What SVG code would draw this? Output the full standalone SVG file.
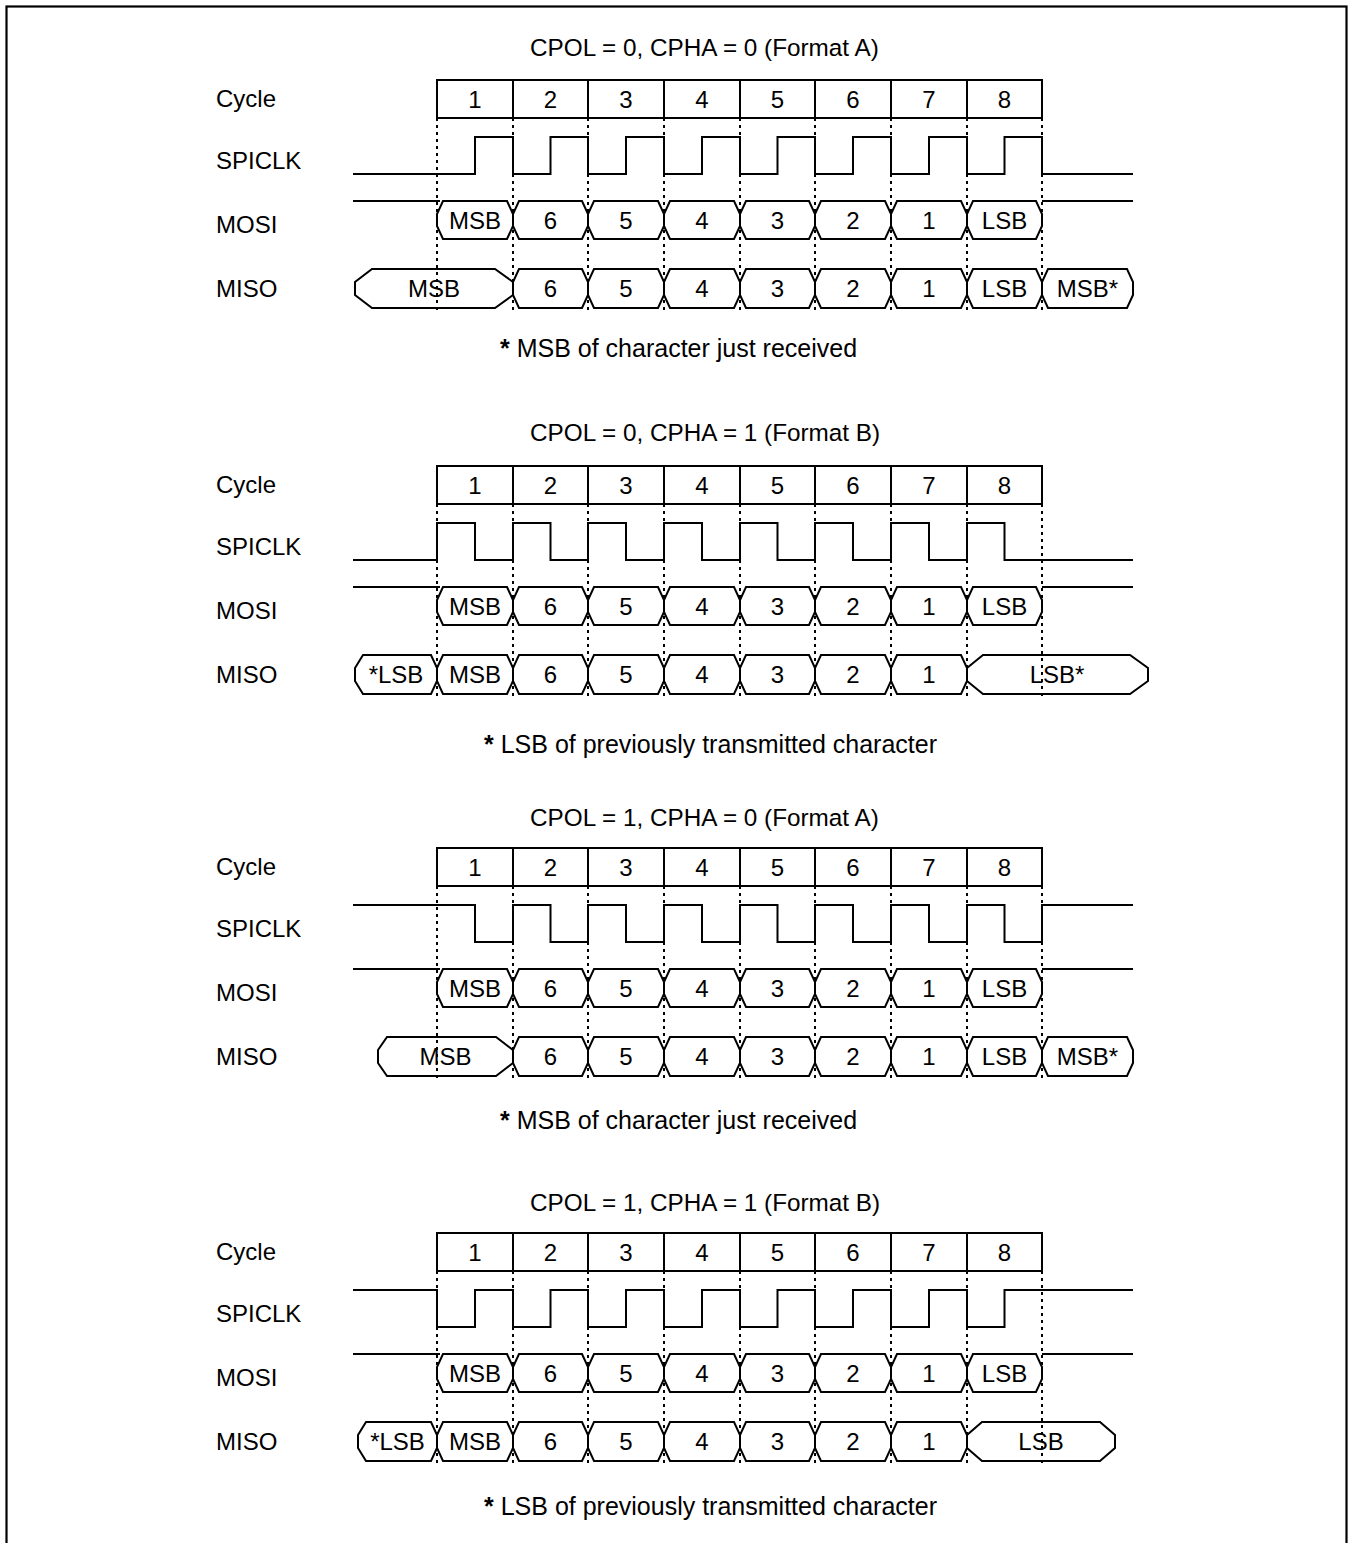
<svg xmlns="http://www.w3.org/2000/svg" width="1348" height="1543" viewBox="0 0 1348 1543">
<style>
text{font-family:"Liberation Sans",Arial,sans-serif;font-size:24px;fill:#000}
.c{text-anchor:middle}
.t{font-size:24.3px}
.f{font-size:25px}
.ln{fill:none;stroke:#000;stroke-width:2}
.bus{fill:none;stroke:#000;stroke-width:2;stroke-linejoin:miter}
.dot{fill:none;stroke:#000;stroke-width:2;stroke-dasharray:3 4}
.b{font-weight:bold}
</style>
<rect x="0" y="0" width="1348" height="1543" fill="#fff"/>
<rect id="frame" x="6.5" y="6.5" width="1340" height="1560" fill="none" stroke="#000" stroke-width="2.2"/>

<!-- Section 1 -->
<g id="sec1">
<text class="t" x="530" y="56">CPOL = 0, CPHA = 0 (Format A)</text>
<text class="f" x="500" y="357"><tspan class="b">*</tspan> MSB of character just received</text>
<g transform="translate(0,80)">
<g id="s1-labels">
<text x="216" y="27">Cycle</text>
<text x="216" y="88.6">SPICLK</text>
<text x="216" y="152.6">MOSI</text>
<text x="216" y="216.6">MISO</text>
</g>
<g id="s1-cycle">
<path class="ln" d="M437,0H1042V38H437Z M513,0V38 M588,0V38 M664,0V38 M740,0V38 M815,0V38 M891,0V38 M967,0V38"/>
<text class="c" x="475" y="27.6">1</text><text class="c" x="550.5" y="27.6">2</text><text class="c" x="626" y="27.6">3</text><text class="c" x="702" y="27.6">4</text><text class="c" x="777.5" y="27.6">5</text><text class="c" x="853" y="27.6">6</text><text class="c" x="929" y="27.6">7</text><text class="c" x="1004.5" y="27.6">8</text>
</g>
<g id="s1-spiclk">
<path class="ln" d="M353,94H475V57H513V94H550.5V57H588V94H626V57H664V94H702V57H740V94H777.5V57H815V94H853V57H891V94H929V57H967V94H1004.5V57H1042V94H1133"/>
</g>
<g id="s1-mosi">
<path class="ln" d="M353,121H440 M1042,121H1133"/>
<polygon class="bus" points="443,121 507,121 513,134 513,146 507,159 443,159 437,146 437,134"/>
<polygon class="bus" points="519,121 582,121 588,134 588,146 582,159 519,159 513,146 513,134"/>
<polygon class="bus" points="594,121 658,121 664,134 664,146 658,159 594,159 588,146 588,134"/>
<polygon class="bus" points="670,121 734,121 740,134 740,146 734,159 670,159 664,146 664,134"/>
<polygon class="bus" points="746,121 809,121 815,134 815,146 809,159 746,159 740,146 740,134"/>
<polygon class="bus" points="821,121 885,121 891,134 891,146 885,159 821,159 815,146 815,134"/>
<polygon class="bus" points="897,121 961,121 967,134 967,146 961,159 897,159 891,146 891,134"/>
<polygon class="bus" points="973,121 1036,121 1042,134 1042,146 1036,159 973,159 967,146 967,134"/>
<text class="c" x="475" y="148.6">MSB</text><text class="c" x="550.5" y="148.6">6</text><text class="c" x="626" y="148.6">5</text><text class="c" x="702" y="148.6">4</text><text class="c" x="777.5" y="148.6">3</text><text class="c" x="853" y="148.6">2</text><text class="c" x="929" y="148.6">1</text><text class="c" x="1004.5" y="148.6">LSB</text>
</g>
<g id="s1-miso">
<polygon class="bus" points="372,189 495,189 513,202 513,215 495,228 372,228 355,215 355,202"/>
<polygon class="bus" points="519,189 582,189 588,202 588,215 582,228 519,228 513,215 513,202"/>
<polygon class="bus" points="594,189 658,189 664,202 664,215 658,228 594,228 588,215 588,202"/>
<polygon class="bus" points="670,189 734,189 740,202 740,215 734,228 670,228 664,215 664,202"/>
<polygon class="bus" points="746,189 809,189 815,202 815,215 809,228 746,228 740,215 740,202"/>
<polygon class="bus" points="821,189 885,189 891,202 891,215 885,228 821,228 815,215 815,202"/>
<polygon class="bus" points="897,189 961,189 967,202 967,215 961,228 897,228 891,215 891,202"/>
<polygon class="bus" points="973,189 1036,189 1042,202 1042,215 1036,228 973,228 967,215 967,202"/>
<polygon class="bus" points="1048,189 1127,189 1133,202 1133,215 1127,228 1048,228 1042,215 1042,202"/>
<text class="c" x="434" y="217">MSB</text><text class="c" x="550.5" y="217">6</text><text class="c" x="626" y="217">5</text><text class="c" x="702" y="217">4</text><text class="c" x="777.5" y="217">3</text><text class="c" x="853" y="217">2</text><text class="c" x="929" y="217">1</text><text class="c" x="1004.5" y="217">LSB</text><text class="c" x="1087.5" y="217">MSB*</text>
</g>
<path class="dot" d="M437,38V234 M513,38V234 M588,38V234 M664,38V234 M740,38V234 M815,38V234 M891,38V234 M967,38V234 M1042,38V234"/>
</g>
</g>

<!-- Section 2 -->
<g id="sec2">
<text class="t" x="530" y="441">CPOL = 0, CPHA = 1 (Format B)</text>
<text class="f" x="484" y="753"><tspan class="b">*</tspan> LSB of previously transmitted character</text>
<g transform="translate(0,466)">
<g id="s2-labels">
<text x="216" y="27">Cycle</text>
<text x="216" y="88.6">SPICLK</text>
<text x="216" y="152.6">MOSI</text>
<text x="216" y="216.6">MISO</text>
</g>
<g id="s2-cycle">
<path class="ln" d="M437,0H1042V38H437Z M513,0V38 M588,0V38 M664,0V38 M740,0V38 M815,0V38 M891,0V38 M967,0V38"/>
<text class="c" x="475" y="27.6">1</text><text class="c" x="550.5" y="27.6">2</text><text class="c" x="626" y="27.6">3</text><text class="c" x="702" y="27.6">4</text><text class="c" x="777.5" y="27.6">5</text><text class="c" x="853" y="27.6">6</text><text class="c" x="929" y="27.6">7</text><text class="c" x="1004.5" y="27.6">8</text>
</g>
<g id="s2-spiclk">
<path class="ln" d="M353,94H437V57H475V94H513V57H550.5V94H588V57H626V94H664V57H702V94H740V57H777.5V94H815V57H853V94H891V57H929V94H967V57H1004.5V94H1133"/>
</g>
<g id="s2-mosi">
<path class="ln" d="M353,121H440 M1042,121H1133"/>
<polygon class="bus" points="443,121 507,121 513,134 513,146 507,159 443,159 437,146 437,134"/>
<polygon class="bus" points="519,121 582,121 588,134 588,146 582,159 519,159 513,146 513,134"/>
<polygon class="bus" points="594,121 658,121 664,134 664,146 658,159 594,159 588,146 588,134"/>
<polygon class="bus" points="670,121 734,121 740,134 740,146 734,159 670,159 664,146 664,134"/>
<polygon class="bus" points="746,121 809,121 815,134 815,146 809,159 746,159 740,146 740,134"/>
<polygon class="bus" points="821,121 885,121 891,134 891,146 885,159 821,159 815,146 815,134"/>
<polygon class="bus" points="897,121 961,121 967,134 967,146 961,159 897,159 891,146 891,134"/>
<polygon class="bus" points="973,121 1036,121 1042,134 1042,146 1036,159 973,159 967,146 967,134"/>
<text class="c" x="475" y="148.6">MSB</text><text class="c" x="550.5" y="148.6">6</text><text class="c" x="626" y="148.6">5</text><text class="c" x="702" y="148.6">4</text><text class="c" x="777.5" y="148.6">3</text><text class="c" x="853" y="148.6">2</text><text class="c" x="929" y="148.6">1</text><text class="c" x="1004.5" y="148.6">LSB</text>
</g>
<g id="s2-miso">
<polygon class="bus" points="363,189 431,189 437,202 437,215 431,228 363,228 355,215 355,202"/>
<polygon class="bus" points="443,189 507,189 513,202 513,215 507,228 443,228 437,215 437,202"/>
<polygon class="bus" points="519,189 582,189 588,202 588,215 582,228 519,228 513,215 513,202"/>
<polygon class="bus" points="594,189 658,189 664,202 664,215 658,228 594,228 588,215 588,202"/>
<polygon class="bus" points="670,189 734,189 740,202 740,215 734,228 670,228 664,215 664,202"/>
<polygon class="bus" points="746,189 809,189 815,202 815,215 809,228 746,228 740,215 740,202"/>
<polygon class="bus" points="821,189 885,189 891,202 891,215 885,228 821,228 815,215 815,202"/>
<polygon class="bus" points="897,189 961,189 967,202 967,215 961,228 897,228 891,215 891,202"/>
<polygon class="bus" points="983,189 1130,189 1148,202 1148,215 1130,228 983,228 967,215 967,202"/>
<text class="c" x="396" y="217">*LSB</text><text class="c" x="475" y="217">MSB</text><text class="c" x="550.5" y="217">6</text><text class="c" x="626" y="217">5</text><text class="c" x="702" y="217">4</text><text class="c" x="777.5" y="217">3</text><text class="c" x="853" y="217">2</text><text class="c" x="929" y="217">1</text><text class="c" x="1057" y="217">LSB*</text>
</g>
<path class="dot" d="M437,38V234 M513,38V234 M588,38V234 M664,38V234 M740,38V234 M815,38V234 M891,38V234 M967,38V234 M1042,38V234"/>
</g>
</g>

<!-- Section 3 -->
<g id="sec3">
<text class="t" x="530" y="826">CPOL = 1, CPHA = 0 (Format A)</text>
<text class="f" x="500" y="1129"><tspan class="b">*</tspan> MSB of character just received</text>
<g transform="translate(0,848)">
<g id="s3-labels">
<text x="216" y="27">Cycle</text>
<text x="216" y="88.6">SPICLK</text>
<text x="216" y="152.6">MOSI</text>
<text x="216" y="216.6">MISO</text>
</g>
<g id="s3-cycle">
<path class="ln" d="M437,0H1042V38H437Z M513,0V38 M588,0V38 M664,0V38 M740,0V38 M815,0V38 M891,0V38 M967,0V38"/>
<text class="c" x="475" y="27.6">1</text><text class="c" x="550.5" y="27.6">2</text><text class="c" x="626" y="27.6">3</text><text class="c" x="702" y="27.6">4</text><text class="c" x="777.5" y="27.6">5</text><text class="c" x="853" y="27.6">6</text><text class="c" x="929" y="27.6">7</text><text class="c" x="1004.5" y="27.6">8</text>
</g>
<g id="s3-spiclk">
<path class="ln" d="M353,57H475V94H513V57H550.5V94H588V57H626V94H664V57H702V94H740V57H777.5V94H815V57H853V94H891V57H929V94H967V57H1004.5V94H1042V57H1133"/>
</g>
<g id="s3-mosi">
<path class="ln" d="M353,121H440 M1042,121H1133"/>
<polygon class="bus" points="443,121 507,121 513,134 513,146 507,159 443,159 437,146 437,134"/>
<polygon class="bus" points="519,121 582,121 588,134 588,146 582,159 519,159 513,146 513,134"/>
<polygon class="bus" points="594,121 658,121 664,134 664,146 658,159 594,159 588,146 588,134"/>
<polygon class="bus" points="670,121 734,121 740,134 740,146 734,159 670,159 664,146 664,134"/>
<polygon class="bus" points="746,121 809,121 815,134 815,146 809,159 746,159 740,146 740,134"/>
<polygon class="bus" points="821,121 885,121 891,134 891,146 885,159 821,159 815,146 815,134"/>
<polygon class="bus" points="897,121 961,121 967,134 967,146 961,159 897,159 891,146 891,134"/>
<polygon class="bus" points="973,121 1036,121 1042,134 1042,146 1036,159 973,159 967,146 967,134"/>
<text class="c" x="475" y="148.6">MSB</text><text class="c" x="550.5" y="148.6">6</text><text class="c" x="626" y="148.6">5</text><text class="c" x="702" y="148.6">4</text><text class="c" x="777.5" y="148.6">3</text><text class="c" x="853" y="148.6">2</text><text class="c" x="929" y="148.6">1</text><text class="c" x="1004.5" y="148.6">LSB</text>
</g>
<g id="s3-miso">
<polygon class="bus" points="387,189 496,189 513,202 513,215 496,228 387,228 378,215 378,202"/>
<polygon class="bus" points="519,189 582,189 588,202 588,215 582,228 519,228 513,215 513,202"/>
<polygon class="bus" points="594,189 658,189 664,202 664,215 658,228 594,228 588,215 588,202"/>
<polygon class="bus" points="670,189 734,189 740,202 740,215 734,228 670,228 664,215 664,202"/>
<polygon class="bus" points="746,189 809,189 815,202 815,215 809,228 746,228 740,215 740,202"/>
<polygon class="bus" points="821,189 885,189 891,202 891,215 885,228 821,228 815,215 815,202"/>
<polygon class="bus" points="897,189 961,189 967,202 967,215 961,228 897,228 891,215 891,202"/>
<polygon class="bus" points="973,189 1036,189 1042,202 1042,215 1036,228 973,228 967,215 967,202"/>
<polygon class="bus" points="1048,189 1127,189 1133,202 1133,215 1127,228 1048,228 1042,215 1042,202"/>
<text class="c" x="445.5" y="217">MSB</text><text class="c" x="550.5" y="217">6</text><text class="c" x="626" y="217">5</text><text class="c" x="702" y="217">4</text><text class="c" x="777.5" y="217">3</text><text class="c" x="853" y="217">2</text><text class="c" x="929" y="217">1</text><text class="c" x="1004.5" y="217">LSB</text><text class="c" x="1087.5" y="217">MSB*</text>
</g>
<path class="dot" d="M437,38V234 M513,38V234 M588,38V234 M664,38V234 M740,38V234 M815,38V234 M891,38V234 M967,38V234 M1042,38V234"/>
</g>
</g>

<!-- Section 4 -->
<g id="sec4">
<text class="t" x="530" y="1211">CPOL = 1, CPHA = 1 (Format B)</text>
<text class="f" x="484" y="1515"><tspan class="b">*</tspan> LSB of previously transmitted character</text>
<g transform="translate(0,1233)">
<g id="s4-labels">
<text x="216" y="27">Cycle</text>
<text x="216" y="88.6">SPICLK</text>
<text x="216" y="152.6">MOSI</text>
<text x="216" y="216.6">MISO</text>
</g>
<g id="s4-cycle">
<path class="ln" d="M437,0H1042V38H437Z M513,0V38 M588,0V38 M664,0V38 M740,0V38 M815,0V38 M891,0V38 M967,0V38"/>
<text class="c" x="475" y="27.6">1</text><text class="c" x="550.5" y="27.6">2</text><text class="c" x="626" y="27.6">3</text><text class="c" x="702" y="27.6">4</text><text class="c" x="777.5" y="27.6">5</text><text class="c" x="853" y="27.6">6</text><text class="c" x="929" y="27.6">7</text><text class="c" x="1004.5" y="27.6">8</text>
</g>
<g id="s4-spiclk">
<path class="ln" d="M353,57H437V94H475V57H513V94H550.5V57H588V94H626V57H664V94H702V57H740V94H777.5V57H815V94H853V57H891V94H929V57H967V94H1004.5V57H1133"/>
</g>
<g id="s4-mosi">
<path class="ln" d="M353,121H440 M1042,121H1133"/>
<polygon class="bus" points="443,121 507,121 513,134 513,146 507,159 443,159 437,146 437,134"/>
<polygon class="bus" points="519,121 582,121 588,134 588,146 582,159 519,159 513,146 513,134"/>
<polygon class="bus" points="594,121 658,121 664,134 664,146 658,159 594,159 588,146 588,134"/>
<polygon class="bus" points="670,121 734,121 740,134 740,146 734,159 670,159 664,146 664,134"/>
<polygon class="bus" points="746,121 809,121 815,134 815,146 809,159 746,159 740,146 740,134"/>
<polygon class="bus" points="821,121 885,121 891,134 891,146 885,159 821,159 815,146 815,134"/>
<polygon class="bus" points="897,121 961,121 967,134 967,146 961,159 897,159 891,146 891,134"/>
<polygon class="bus" points="973,121 1036,121 1042,134 1042,146 1036,159 973,159 967,146 967,134"/>
<text class="c" x="475" y="148.6">MSB</text><text class="c" x="550.5" y="148.6">6</text><text class="c" x="626" y="148.6">5</text><text class="c" x="702" y="148.6">4</text><text class="c" x="777.5" y="148.6">3</text><text class="c" x="853" y="148.6">2</text><text class="c" x="929" y="148.6">1</text><text class="c" x="1004.5" y="148.6">LSB</text>
</g>
<g id="s4-miso">
<polygon class="bus" points="366,189 431,189 437,202 437,215 431,228 366,228 358,215 358,202"/>
<polygon class="bus" points="443,189 507,189 513,202 513,215 507,228 443,228 437,215 437,202"/>
<polygon class="bus" points="519,189 582,189 588,202 588,215 582,228 519,228 513,215 513,202"/>
<polygon class="bus" points="594,189 658,189 664,202 664,215 658,228 594,228 588,215 588,202"/>
<polygon class="bus" points="670,189 734,189 740,202 740,215 734,228 670,228 664,215 664,202"/>
<polygon class="bus" points="746,189 809,189 815,202 815,215 809,228 746,228 740,215 740,202"/>
<polygon class="bus" points="821,189 885,189 891,202 891,215 885,228 821,228 815,215 815,202"/>
<polygon class="bus" points="897,189 961,189 967,202 967,215 961,228 897,228 891,215 891,202"/>
<polygon class="bus" points="982,189 1100,189 1115,202 1115,215 1100,228 982,228 967,215 967,202"/>
<text class="c" x="397.5" y="217">*LSB</text><text class="c" x="475" y="217">MSB</text><text class="c" x="550.5" y="217">6</text><text class="c" x="626" y="217">5</text><text class="c" x="702" y="217">4</text><text class="c" x="777.5" y="217">3</text><text class="c" x="853" y="217">2</text><text class="c" x="929" y="217">1</text><text class="c" x="1041" y="217">LSB</text>
</g>
<path class="dot" d="M437,38V234 M513,38V234 M588,38V234 M664,38V234 M740,38V234 M815,38V234 M891,38V234 M967,38V234 M1042,38V234"/>
</g>
</g>
</svg>
